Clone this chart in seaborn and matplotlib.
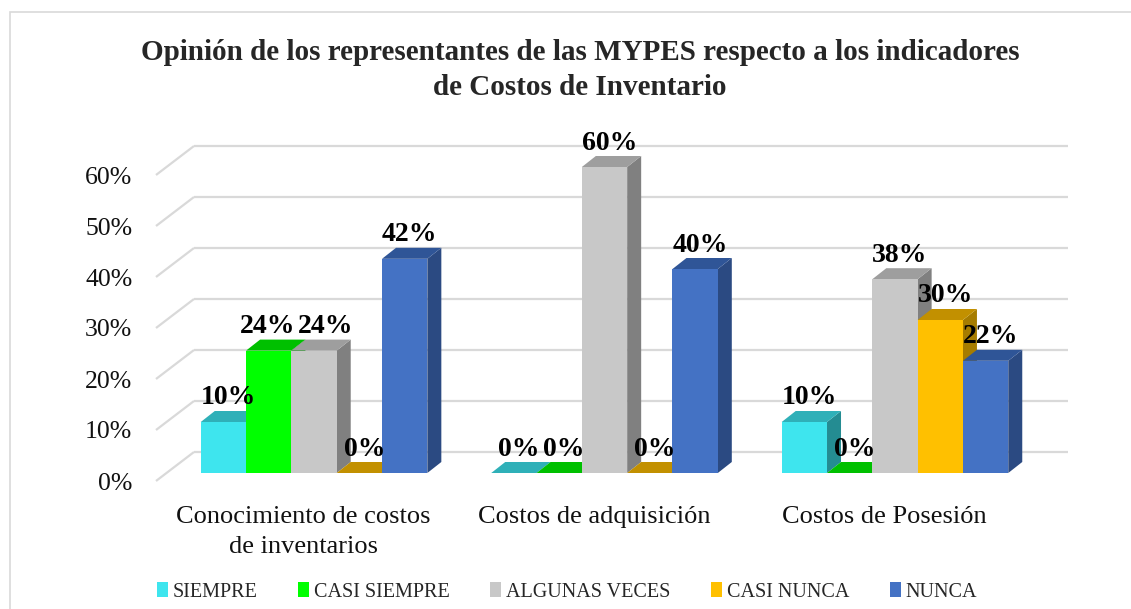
import matplotlib
matplotlib.use("Agg")
import matplotlib.pyplot as plt
import matplotlib.transforms as mtransforms
from matplotlib.patches import Polygon, Patch, Rectangle
import seaborn as sns
import pandas as pd

# ---------------- data ----------------
categories = ["Conocimiento de costos\nde inventarios", "Costos de adquisición", "Costos de Posesión"]
series_names = ["SIEMPRE", "CASI SIEMPRE", "ALGUNAS VECES", "CASI NUNCA", "NUNCA"]
siempre = [10, 0, 10]
casi_siempre = [24, 0, 0]
algunas_veces = [24, 60, 38]
casi_nunca = [0, 0, 30]
nunca = [42, 40, 22]
yticks = [0, 10, 20, 30, 40, 50, 60]
ytick_labels = ["0%", "10%", "20%", "30%", "40%", "50%", "60%"]
title = "Opinión de los representantes de las MYPES respecto a los indicadores\nde Costos de Inventario"

front_colors = ["#3EE5EE", "#00FF00", "#C8C8C8", "#FFC000", "#4472C4"]
top_colors = ["#2FB0B8", "#00C000", "#9E9E9E", "#C29000", "#2F5597"]
side_colors = ["#248C92", "#00A000", "#808080", "#A67C00", "#2B4A82"]

values = [siempre, casi_siempre, algunas_veces, casi_nunca, nunca]
rows = []
for name, vals in zip(series_names, values):
    for cat, v in zip(categories, vals):
        rows.append({"cat": cat, "serie": name, "val": v})
df = pd.DataFrame(rows)

# ---------------- figure ----------------
sns.set_theme(style="white")
plt.rcParams["font.family"] = ["Liberation Serif", "DejaVu Serif"]

W, H = 1131, 609
fig = plt.figure(figsize=(W / 100, H / 100), dpi=100)
fig.patch.set_facecolor("white")

# outer frame
fig.add_artist(Rectangle((10 / W, -0.1), 1.2, 1 - 12 / H + 0.1, transform=fig.transFigure,
                         fill=False, edgecolor="#D9D9D9", linewidth=1.2))

ax_left, ax_right = 166.5, 1040.5
ax_bottom, ax_top = 473, 167
ax = fig.add_axes([ax_left / W, 1 - ax_bottom / H, (ax_right - ax_left) / W, (ax_bottom - ax_top) / H])
ax.set_facecolor("none")

sns.barplot(data=df, x="cat", y="val", hue="serie", hue_order=series_names,
            order=categories, palette=front_colors, width=0.78, saturation=1,
            ax=ax, legend=False, errorbar=None, linewidth=0)

xlim = (-0.508, 2.501)
ax.set_xlim(*xlim)
ax.set_ylim(0, 60)
for s in ax.spines.values():
    s.set_visible(False)
ax.set_xlabel("")
ax.set_ylabel("")

ax_w_px = ax_right - ax_left
ax_h_px = ax_bottom - ax_top
ux = (xlim[1] - xlim[0]) / ax_w_px
uy = 60 / ax_h_px

# depth offsets (pixels)
bar_dx, bar_dy = 14, 11
front_dx, front_dy = 10.5, 8
back_dx, back_dy = 27.5, 21

# gridlines (back wall + left wall)
for t in yticks:
    ax.plot([xlim[0] + back_dx * ux, xlim[1] + back_dx * ux],
            [t + back_dy * uy, t + back_dy * uy], color="#D9D9D9", lw=1.6,
            clip_on=False, zorder=0.5, solid_capstyle="butt")
    ax.plot([xlim[0] - front_dx * ux, xlim[0] + back_dx * ux],
            [t - front_dy * uy, t + back_dy * uy], color="#D9D9D9", lw=1.6,
            clip_on=False, zorder=0.5, solid_capstyle="butt")

# 3D faces + labels
dxd, dyd = bar_dx * ux, bar_dy * uy
labels_by_group = {}
for h_i, cont in enumerate(ax.containers):
    for g_i, (p, v) in enumerate(zip(cont.patches, values[h_i])):
        x, w, hgt = p.get_x(), p.get_width(), p.get_height()
        p.set_zorder(2 + h_i * 0.1 + 0.05)
        side = Polygon([(x + w, 0), (x + w + dxd, dyd), (x + w + dxd, hgt + dyd), (x + w, hgt)],
                       closed=True, facecolor=side_colors[h_i], edgecolor="none",
                       zorder=2 + h_i * 0.1, clip_on=False)
        top = Polygon([(x, hgt), (x + w, hgt), (x + w + dxd, hgt + dyd), (x + dxd, hgt + dyd)],
                      closed=True, facecolor=top_colors[h_i], edgecolor="none",
                      zorder=2 + h_i * 0.1 + 0.01, clip_on=False)
        ax.add_patch(side)
        ax.add_patch(top)
        t = ax.text(x + w / 2 + dxd / 2 - 2 * ux, hgt + dyd + 0.5 * uy, f"{v}%", ha="center",
                    va="bottom", fontsize=20, fontweight="bold", color="black", zorder=5)
        labels_by_group.setdefault(g_i, []).append(t)

# simple label de-overlap inside each group (push neighbours apart horizontally)
fig.canvas.draw()
renderer = fig.canvas.get_renderer()
for g_i, texts in labels_by_group.items():
    for a, b in zip(texts[:-1], texts[1:]):
        ba = a.get_window_extent(renderer)
        bb = b.get_window_extent(renderer)
        if ba.overlaps(bb):
            ov = ba.x1 - bb.x0 + 2
            xa, ya = a.get_position()
            xb, yb = b.get_position()
            a.set_position((xa - ov / 2 * ux, ya))
            b.set_position((xb + ov / 2 * ux, yb))

# ticks
ax.set_yticks(yticks)
ax.set_yticklabels(ytick_labels)
ax.set_xticks(range(len(categories)))
ax.set_xticklabels(categories, linespacing=1.45)
ax.tick_params(axis="y", length=0, pad=17, labelsize=18.5, labelcolor="#111111")
ax.tick_params(axis="x", length=0, pad=18, labelsize=19, labelcolor="#111111")
off = mtransforms.ScaledTranslation(-front_dx / 100, -front_dy / 100, fig.dpi_scale_trans)
for lab in ax.get_yticklabels() + ax.get_xticklabels():
    lab.set_transform(lab.get_transform() + off)

# title
fig.text(580 / W, 1 - 70 / H, title, ha="center", va="center", fontsize=21,
         fontweight="bold", linespacing=1.38)

# legend
handles = [Patch(facecolor=c, edgecolor="none") for c in front_colors]
fig.legend(handles, series_names, loc="center", bbox_to_anchor=(567 / W, 1 - 592 / H),
           ncol=5, frameon=False, fontsize=14.5, handlelength=0.55, handleheight=0.7,
           handletextpad=0.25, columnspacing=2.0, borderaxespad=0)

fig.savefig("out.png", dpi=100)
